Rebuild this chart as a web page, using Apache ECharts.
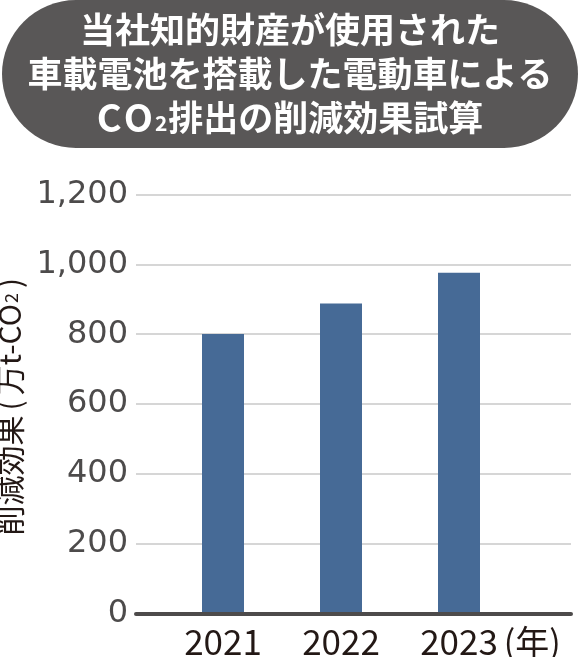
<!DOCTYPE html>
<html>
<head>
<meta charset="utf-8">
<script src="https://cdn.jsdelivr.net/npm/echarts@6/dist/echarts.min.js"></script>
<style>
html,body{margin:0;padding:0;background:#fff;}
#c{width:580px;height:657px;}
</style>
</head>
<body>
<div id="c"></div>
<script>
var titleLines = ['当社知的財産が使用された', '車載電池を搭載した電動車による', '{c|C}{c|O}{s|2}排出の削減効果試算'];
var categories = ['2021', '2022', '2023'];
var values = [801, 888, 976];
var yTicks = { min: 0, max: 1200, interval: 200 };
var yName = '削減効果{p|(}万t-CO{s|2}{p|)}';
var xUnit = '(年)';

var chart = echarts.init(document.getElementById('c'));
var cjk = '"Noto Sans CJK JP", "Noto Sans", sans-serif';
var gridTop = 194.5, gridBottom = 43.3;

chart.setOption({
  animation: false,
  backgroundColor: '#fff',
  graphic: [{
    type: 'rect',
    z: -1,
    shape: { x: 2, y: 0, width: 576, height: 148, r: 74 },
    style: { fill: '#595757' }
  }, {
    type: 'text',
    z: 5,
    x: 290, y: 8,
    style: {
      text: titleLines.join('\n'),
      align: 'center',
      verticalAlign: 'top',
      fill: '#fff',
      fontFamily: cjk,
      fontSize: 35,
      fontWeight: 'bold',
      lineHeight: 44,
      rich: {
        c: { fill: '#fff', fontFamily: cjk, fontSize: 38, fontWeight: 'bold', lineHeight: 44, padding: [0, 2, 0, 0] },
        s: { fill: '#fff', fontFamily: cjk, fontSize: 21, fontWeight: 'bold', lineHeight: 21, verticalAlign: 'bottom', padding: [0, 1, 6, 0] }
      }
    }
  }],
  grid: [
    { left: 136, right: 9, top: gridTop, bottom: gridBottom, outerBoundsMode: 'none', containLabel: false },
    { left: 164, right: 62, top: gridTop, bottom: gridBottom, outerBoundsMode: 'none', containLabel: false }
  ],
  xAxis: [
    {
      gridIndex: 0, type: 'value', min: 0, max: 1, z: 10,
      axisLine: { show: true, lineStyle: { color: '#4d4b4b', width: 4 } },
      axisTick: { show: false }, axisLabel: { show: false }, splitLine: { show: false }
    },
    {
      gridIndex: 1, type: 'category', data: categories,
      axisLine: { show: false }, axisTick: { show: false }, splitLine: { show: false },
      axisLabel: { margin: 11, color: '#231815', fontFamily: cjk, fontSize: 35 },
      name: xUnit, nameLocation: 'end', nameGap: -15,
      nameTextStyle: { color: '#231815', fontFamily: cjk, fontSize: 34, verticalAlign: 'top', padding: [11, 0, 0, 0] }
    }
  ],
  yAxis: [
    {
      gridIndex: 0, type: 'value', min: yTicks.min, max: yTicks.max, interval: yTicks.interval,
      axisLine: { show: false }, axisTick: { show: false },
      splitLine: { show: true, lineStyle: { color: '#c8c8c8', width: 1.5 } },
      axisLabel: {
        margin: 8, color: '#4d4b4b', fontFamily: '"DejaVu Sans", sans-serif', fontSize: 32,
        formatter: function (v) { return v.toLocaleString('en-US'); }
      },
      name: yName, nameLocation: 'middle', nameRotate: 90, nameGap: 111,
      nameTextStyle: {
        color: '#231815', fontFamily: cjk, fontSize: 30,
        rich: {
          p: { color: '#231815', fontFamily: cjk, fontSize: 30, padding: [0, 5, 0, 5] },
          s: { color: '#231815', fontFamily: cjk, fontSize: 18, verticalAlign: 'bottom', lineHeight: 18, padding: [0, 0, 5, 1] }
        }
      }
    },
    {
      gridIndex: 1, type: 'value', min: yTicks.min, max: yTicks.max, interval: yTicks.interval, show: false
    }
  ],
  series: [{
    type: 'bar',
    xAxisIndex: 1, yAxisIndex: 1,
    data: values,
    barWidth: 42,
    itemStyle: { color: '#466a96' }
  }]
});
</script>
</body>
</html>
